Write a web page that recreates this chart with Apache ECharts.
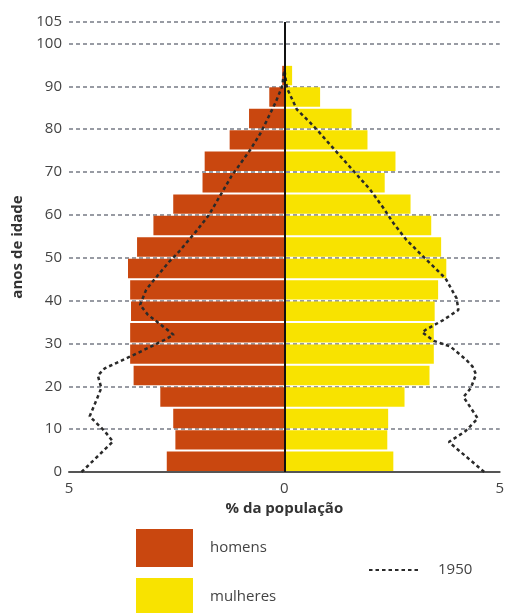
<!DOCTYPE html>
<html>
<head>
<meta charset="utf-8">
<script src="https://cdn.jsdelivr.net/npm/echarts@6/dist/echarts.min.js"></script>
<style>
html,body{margin:0;padding:0;background:#fff;}
#chart{width:507px;height:613px;}
</style>
</head>
<body>
<div id="chart"></div>
<script>
// Age groups (start of each 5-year band)
const ageStart = [0,5,10,15,20,25,30,35,40,45,50,55,60,65,70,75,80,85,90];
// % of population, men (negative = left side)
const homens = [-2.73,-2.53,-2.58,-2.88,-3.50,-3.58,-3.58,-3.56,-3.58,-3.63,-3.42,-3.04,-2.58,-1.90,-1.85,-1.27,-0.82,-0.35,-0.05];
// % of population, women
const mulheres = [2.53,2.39,2.41,2.79,3.37,3.47,3.47,3.49,3.57,3.76,3.64,3.41,2.93,2.33,2.58,1.93,1.56,0.83,0.18];
// 1950 profile, men: percent and age
const homens1950Pct = [-4.71,-3.98,-4.17,-4.52,-4.33,-4.25,-4.33,-4.17,-3.59,-3.17,-2.79,-2.57,-2.86,-3.17,-3.35,-3.21,-3.02,-2.68,-2.44,-2.02,-1.75,-1.23,-0.79,-0.55,-0.21,-0.05,0];
const homens1950Age = [0,7.1,9.5,13,17.6,19.6,22.5,24.2,26.9,28.9,30.8,32,34.3,36.7,39,42.5,44.9,49,51.5,56.5,60,69,75.2,79.1,86.1,90,94];
// 1950 profile, women: percent and age
const mulheres1950Pct = [4.64,4.22,3.82,4.20,4.49,4.16,4.33,4.45,4.37,4.22,3.85,3.47,3.20,3.30,3.68,4.04,4.00,3.74,3.25,2.83,2.53,2.30,1.99,1.68,1.37,1.06,0.79,0.60,0.29,0.06,0];
const mulheres1950Age = [0,3.6,7,9.5,12.5,17.5,19.6,22.8,24.6,26.2,29.3,30.6,32.6,33.3,35.4,37.8,40.5,45.2,50,54.2,58.1,61.6,65.9,69.4,72.9,76.4,79.5,81.5,84.6,89.6,94];
const xTicks = [-5,0,5];
const yMax = 105;

const FONT = 'Open Sans';
const RED = '#C9470F';
const YEL = '#F8E300';

function pairs(xs, ys){ return xs.map((x,i)=>[x, ys[i]]); }

function barItem(params, api){
  const v = api.value(0), a = api.value(1);
  const p0 = api.coord([0, a + 5]);
  const p1 = api.coord([v, a]);
  const x = Math.min(p0[0], p1[0]);
  const w = Math.abs(p1[0] - p0[0]);
  const y = p0[1] + 1;
  const h = (p1[1] - p0[1]) - 2;
  return {type:'rect', shape:{x:x, y:y, width:w, height:h}, style: api.style()};
}

const legendText = {fontFamily:FONT, fontSize:15, color:'#444', padding:[3,0,0,12]};

const chart = echarts.init(document.getElementById('chart'));
chart.setOption({
  animation:false,
  textStyle:{fontFamily:FONT},
  grid:{left:69, right:3, top:22, bottom:141},
  legend:[{
    data:['homens'],
    left:136, top:529, padding:0,
    itemWidth:57, itemHeight:38,
    icon:'rect', textStyle:legendText, selectedMode:false
  },{
    data:['mulheres'],
    left:136, top:578, padding:0,
    itemWidth:57, itemHeight:38,
    icon:'rect', textStyle:legendText, selectedMode:false
  },{
    data:['1950'],
    left:368, top:562, padding:0,
    itemWidth:52, itemHeight:20,
    itemStyle:{opacity:0},
    textStyle:{fontFamily:FONT, fontSize:15, color:'#444', padding:[0,0,0,12]},
    selectedMode:false
  }],
  xAxis:{
    type:'value', min:-5, max:5, interval:5,
    name:'% da população', nameLocation:'middle', nameGap:27,
    nameTextStyle:{fontFamily:FONT, fontSize:15, fontWeight:'bold', color:'#333'},
    axisLine:{show:true, lineStyle:{color:'#555', width:2}},
    axisTick:{show:false},
    splitLine:{show:false},
    axisLabel:{fontFamily:FONT, fontSize:15, color:'#444', margin:9,
      formatter:function(v){ return xTicks.indexOf(v) >= 0 ? String(Math.abs(v)) : ''; }}
  },
  yAxis:{
    type:'value', min:0, max:yMax, interval:10,
    name:'anos de idade', nameLocation:'middle', nameGap:42,
    nameTextStyle:{fontFamily:FONT, fontSize:15, fontWeight:'bold', color:'#333'},
    axisLine:{show:false, onZero:false},
    axisTick:{show:false},
    axisLabel:{fontFamily:FONT, fontSize:15, color:'#444', margin:7},
    splitLine:{show:true, lineStyle:{color:'#777b85', width:1.5, type:[4,3]}}
  },
  series:[{
    name:'homens', type:'custom', renderItem:barItem,
    itemStyle:{color:RED},
    encode:{x:0, y:1},
    data: pairs(homens, ageStart)
  },{
    name:'mulheres', type:'custom', renderItem:barItem,
    itemStyle:{color:YEL},
    encode:{x:0, y:1},
    data: pairs(mulheres, ageStart)
  },{
    name:'1950', type:'line', z:4,
    symbol:'none', smooth:false,
    lineStyle:{color:'#2a2a2a', width:2.5, type:[3.5,3]},
    itemStyle:{color:'#2a2a2a'},
    data: pairs(homens1950Pct, homens1950Age),
    markLine:{
      silent:true, symbol:'none', z:5,
      label:{show:false},
      lineStyle:{color:'#111', width:2, type:'solid'},
      data:[[{coord:[0,0]},{coord:[0,yMax]}]]
    }
  },{
    name:'1950', type:'line', z:4,
    symbol:'none', smooth:false,
    lineStyle:{color:'#2a2a2a', width:2.5, type:[3.5,3]},
    itemStyle:{color:'#2a2a2a'},
    data: pairs(mulheres1950Pct, mulheres1950Age)
  }]
});
</script>
</body>
</html>
